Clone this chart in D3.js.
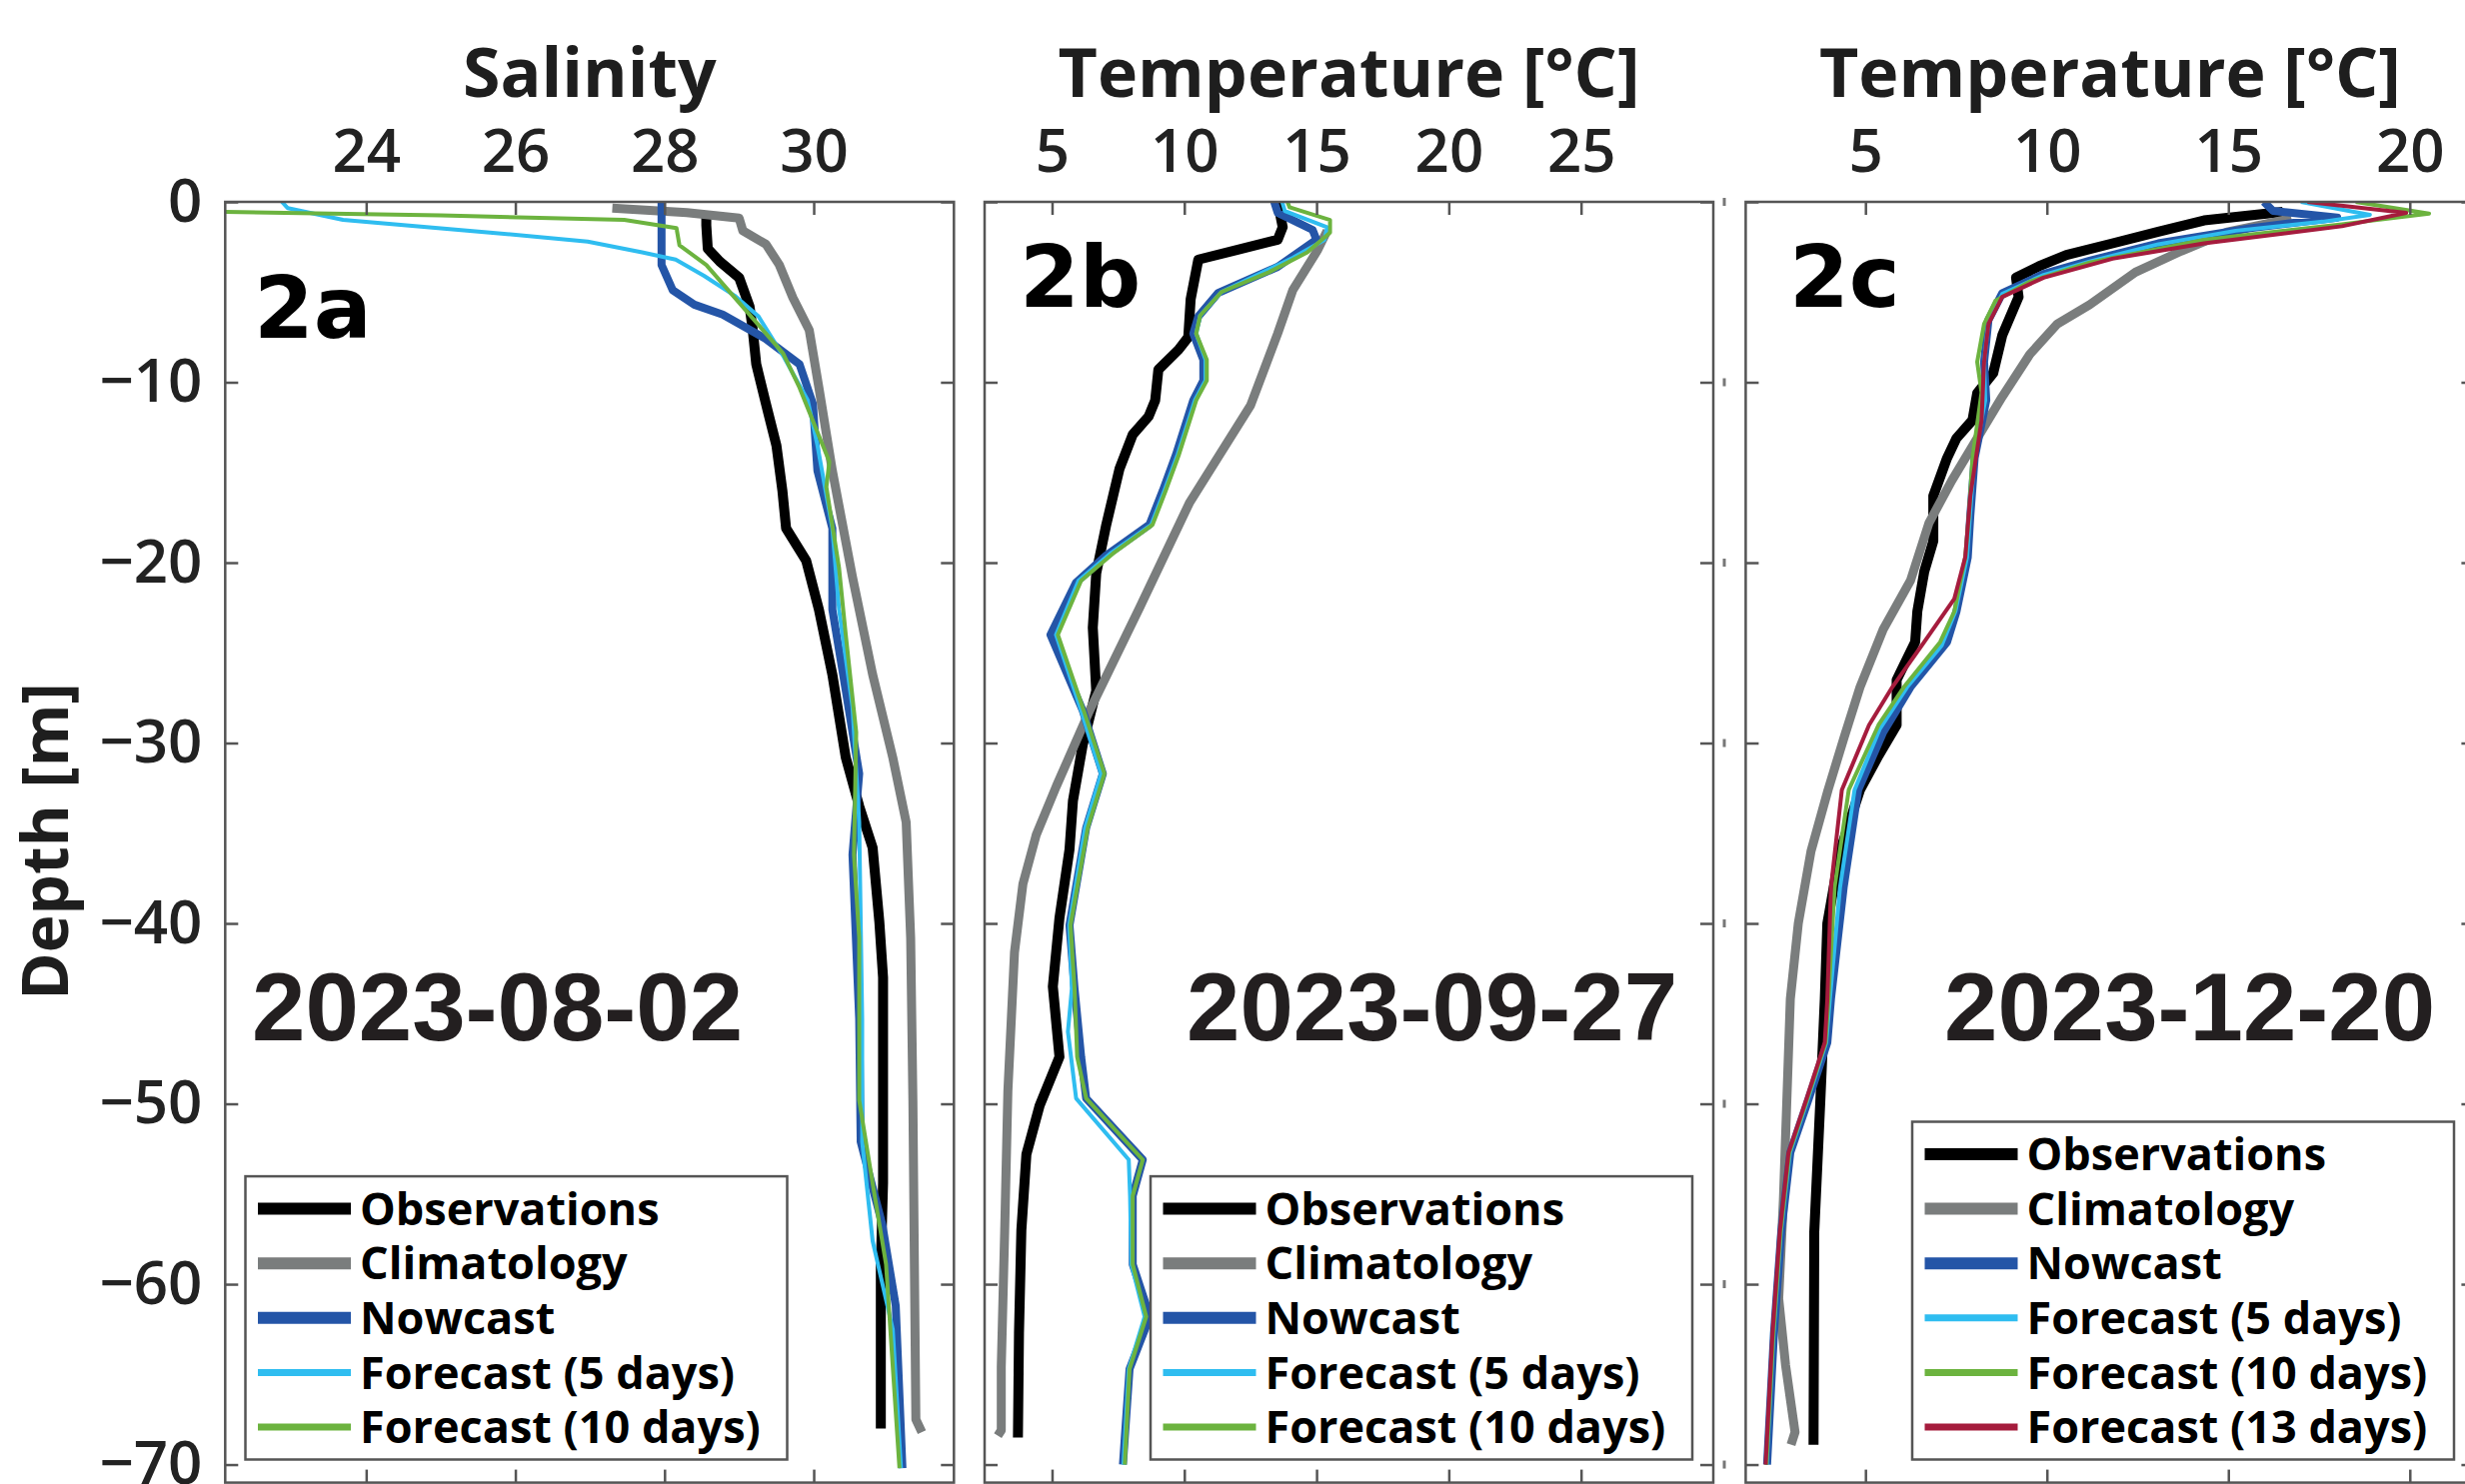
<!DOCTYPE html>
<html>
<head>
<meta charset="utf-8">
<script src="https://cdn.jsdelivr.net/npm/d3@7"></script>
<style>
  body { margin: 0; background: #fff; }
  svg { display: block; }
</style>
</head>
<body>
<svg id="chart" width="2466" height="1485"></svg>
<script>
// ticks
const depthTicks = [0, -10, -20, -30, -40, -50, -60, -70];
const salTicks = [24, 26, 28, 30];
const tempTicksB = [5, 10, 15, 20, 25];
const tempTicksC = [5, 10, 15, 20];

const seriesKeys = ["obs", "clim", "now", "f5", "f10", "f13"];
const legendNames = ["Observations", "Climatology", "Nowcast", "Forecast (5 days)", "Forecast (10 days)", "Forecast (13 days)"];
const panelTags = ["2a", "2b", "2c"];
const panelDates = ["2023-08-02", "2023-09-27", "2023-12-20"];
const xTitles = ["Salinity", "Temperature [°C]", "Temperature [°C]"];

// 2a salinity, [value, depth]
const obsA = [[28.56,-0.5],[28.56,-1.3],[28.58,-2.6],[28.74,-3.3],[29.0,-4.2],[29.14,-5.8],[29.18,-7.0],[29.23,-9.0],[29.36,-11.2],[29.5,-13.5],[29.58,-16.0],[29.63,-18.1],[29.9,-19.9],[30.07,-22.6],[30.25,-26.2],[30.43,-30.8],[30.61,-33.5],[30.79,-35.8],[30.88,-39.9],[30.93,-43.0],[30.93,-54.4],[30.9,-58.9],[30.9,-68.0]];
const climA = [[27.3,-0.35],[28.3,-0.6],[29.0,-0.9],[29.05,-1.6],[29.36,-2.35],[29.54,-3.5],[29.72,-5.3],[29.94,-7.1],[30.07,-10.3],[30.25,-14.9],[30.52,-20.8],[30.79,-26.2],[31.06,-30.8],[31.24,-34.4],[31.3,-40.8],[31.33,-49.8],[31.35,-58.9],[31.37,-67.5],[31.45,-68.2]];
const nowA = [[27.96,0],[27.96,-3.5],[28.11,-4.9],[28.4,-5.7],[28.78,-6.25],[29.36,-7.6],[29.81,-9.0],[29.99,-11.2],[30.05,-14.9],[30.25,-18.1],[30.25,-22.6],[30.43,-27.1],[30.61,-31.7],[30.52,-36.2],[30.61,-45.3],[30.63,-52.1],[30.92,-56.7],[31.1,-61.2],[31.19,-70.2]];
const f5A = [[22.87,0],[22.95,-0.35],[23.69,-1.0],[25.66,-1.7],[26.97,-2.2],[27.7,-2.8],[28.15,-3.2],[28.53,-4.1],[28.94,-5.2],[29.26,-6.35],[29.6,-8.6],[29.92,-11.0],[30.05,-13.5],[30.25,-18.1],[30.34,-22.6],[30.52,-28.0],[30.61,-34.4],[30.65,-45.3],[30.65,-52.1],[30.79,-57.6],[31.06,-62.5],[31.17,-70.2]];
const f10A = [[22.11,-0.55],[25.0,-0.75],[27.46,-1.0],[28.16,-1.45],[28.2,-2.4],[28.56,-3.5],[29.14,-6.25],[29.59,-8.4],[29.81,-10.3],[30.21,-14.4],[30.17,-15.8],[30.34,-20.3],[30.43,-24.0],[30.57,-29.4],[30.54,-36.2],[30.61,-40.8],[30.61,-49.8],[30.79,-54.4],[30.97,-58.9],[31.15,-70.2]];

// 2b temperature
const obsB = [[13.53,0],[13.72,-1.4],[13.53,-2.1],[10.53,-3.2],[10.24,-5.4],[10.15,-7.5],[9.78,-8.2],[9.02,-9.3],[8.9,-11.0],[8.65,-11.9],[8.05,-12.9],[7.55,-14.8],[7.05,-17.9],[6.67,-20.6],[6.54,-23.6],[6.67,-27.1],[6.16,-30.1],[5.79,-33.2],[5.66,-35.9],[5.28,-39.7],[5.03,-43.5],[5.28,-47.4],[4.53,-50.1],[4.03,-52.8],[3.84,-57.0],[3.75,-62.7],[3.71,-68.5]];
const climB = [[15.4,-1.6],[15.03,-2.7],[14.1,-4.9],[13.53,-7.3],[12.5,-11.3],[10.19,-16.7],[8.31,-22.5],[6.42,-28.2],[5.16,-32.4],[4.4,-35.1],[3.9,-37.8],[3.58,-41.6],[3.33,-49.3],[3.21,-57.0],[3.08,-64.6],[3.08,-68.1],[2.95,-68.4]];
const nowB = [[13.4,0],[13.53,-0.6],[14.85,-1.55],[15.0,-2.1],[13.53,-3.6],[11.28,-5.05],[10.53,-6.35],[10.34,-7.3],[10.72,-8.75],[10.72,-9.9],[10.34,-11.0],[9.69,-14.0],[9.19,-16.0],[8.68,-17.9],[7.05,-19.6],[5.91,-21.1],[4.94,-24.0],[6.16,-28.2],[6.92,-31.7],[6.29,-34.7],[5.66,-40.1],[5.85,-43.6],[6.1,-47.4],[6.29,-49.7],[8.43,-53.1],[8.05,-55.1],[8.05,-58.9],[8.7,-61.8],[7.93,-64.7],[7.68,-70.0]];
const f5B = [[13.7,0],[13.8,-0.5],[15.4,-1.4],[15.3,-2.1],[14.1,-3.1],[11.4,-5.0],[10.6,-6.3],[10.45,-7.3],[10.8,-8.75],[10.8,-9.9],[10.4,-11.0],[9.75,-14.0],[9.25,-16.0],[8.75,-17.9],[7.2,-19.5],[6.0,-21.0],[5.15,-24.0],[6.1,-28.2],[6.85,-31.7],[6.25,-34.7],[5.65,-40.1],[5.75,-43.6],[5.6,-46.0],[5.91,-49.7],[7.9,-53.1],[7.95,-55.1],[8.0,-58.9],[8.5,-61.8],[7.9,-64.7],[7.7,-70.0]];
const f10B = [[13.9,0],[13.98,-0.3],[15.51,-1.0],[15.51,-1.7],[14.65,-2.8],[13.2,-3.9],[11.4,-5.0],[10.6,-6.3],[10.45,-7.3],[10.85,-8.75],[10.85,-9.9],[10.45,-11.0],[9.8,-14.0],[9.3,-16.0],[8.8,-17.9],[7.3,-19.5],[6.1,-21.0],[5.22,-24.0],[6.2,-28.2],[6.98,-31.7],[6.35,-34.7],[5.7,-40.1],[5.85,-43.6],[5.95,-47.4],[6.29,-49.7],[8.43,-53.1],[8.05,-55.1],[8.05,-58.9],[8.56,-61.8],[7.93,-64.7],[7.75,-70.0]];

// 2c temperature
const obsC = [[16.5,-0.55],[14.33,-1.03],[13.07,-1.66],[11.81,-2.3],[10.54,-2.94],[9.78,-3.57],[9.15,-4.2],[9.22,-5.27],[8.77,-7.4],[8.52,-9.5],[8.08,-10.6],[7.95,-12.1],[7.51,-13.1],[7.25,-14.2],[6.87,-16.3],[6.87,-18.8],[6.62,-20.5],[6.43,-22.7],[6.37,-24.4],[5.86,-26.5],[5.86,-29.0],[5.36,-30.7],[4.85,-32.6],[4.3,-36.0],[3.95,-40.0],[3.88,-44.2],[3.76,-49.7],[3.59,-57.1],[3.57,-68.9]];
const climC = [[16.74,-0.93],[14.97,-1.67],[13.7,-2.73],[12.44,-3.9],[11.18,-5.7],[10.29,-6.76],[9.53,-8.45],[8.77,-10.8],[8.02,-13.3],[7.38,-15.45],[6.75,-17.8],[6.24,-21.0],[5.49,-23.7],[4.85,-26.9],[4.41,-29.7],[3.97,-32.6],[3.5,-36.0],[3.15,-40.0],[2.93,-44.2],[2.74,-55.3],[2.61,-60.8],[2.8,-64.5],[3.06,-68.2],[2.95,-68.9]];
const nowC = [[15.98,0],[16.23,-0.5],[18.0,-0.87],[15.6,-1.46],[13.07,-2.3],[11.18,-3.26],[9.91,-4.0],[8.77,-5.06],[8.39,-6.54],[8.27,-8.87],[8.33,-11.0],[8.01,-14.2],[7.89,-17.4],[7.82,-19.7],[7.51,-22.7],[7.25,-24.4],[6.24,-26.9],[5.49,-29.4],[4.8,-32.6],[4.4,-38],[4.05,-44.2],[3.95,-46.6],[3.44,-49.7],[2.93,-52.7],[2.68,-57.1],[2.48,-62.7],[2.29,-70.0]];
const f5C = [[17.0,0],[18.9,-0.72],[17.6,-1.1],[15.2,-1.6],[13.07,-2.35],[11.18,-3.3],[9.91,-4.05],[8.77,-5.1],[8.39,-6.6],[8.27,-8.87],[8.3,-11.0],[8.0,-14.2],[7.88,-17.4],[7.8,-19.7],[7.48,-22.7],[7.1,-24.6],[6.15,-26.9],[5.4,-29.2],[4.7,-32.6],[4.3,-38],[4.02,-44.2],[3.92,-46.6],[3.42,-49.7],[2.92,-52.7],[2.67,-57.1],[2.47,-62.7],[2.28,-70.0]];
const f10C = [[18.51,0],[20.53,-0.65],[18.13,-1.24],[14.33,-2.1],[11.18,-3.36],[9.53,-4.42],[8.58,-5.49],[8.27,-6.76],[8.08,-8.87],[8.2,-10.57],[7.95,-14.2],[7.85,-17.4],[7.75,-19.7],[7.45,-22.7],[7.06,-24.4],[6.06,-26.9],[5.36,-29.0],[4.54,-32.6],[4.15,-38],[3.98,-44.2],[3.9,-46.6],[3.4,-49.7],[2.9,-52.7],[2.66,-57.1],[2.46,-62.7],[2.27,-70.0]];
const f13C = [[17.18,0],[19.9,-0.61],[18.13,-1.35],[14.33,-2.3],[11.81,-3.15],[9.91,-4.2],[8.77,-5.27],[8.39,-6.76],[8.27,-8.87],[8.2,-12.1],[7.89,-16.3],[7.75,-19.7],[7.45,-22.0],[6.62,-24.4],[5.74,-26.9],[5.1,-29.0],[4.35,-32.6],[4.05,-38],[3.95,-44.2],[3.88,-46.6],[3.38,-49.7],[2.88,-52.7],[2.64,-57.1],[2.44,-62.7],[2.25,-70.0]];

const lineStyle = {
  obs:  { color: "#000000", width: 10, legendWidth: 12 },
  clim: { color: "#7a7d7d", width: 9,  legendWidth: 12 },
  now:  { color: "#2455a7", width: 8,  legendWidth: 12 },
  f5:   { color: "#2fbdf0", width: 4,  legendWidth: 7 },
  f10:  { color: "#6cb33f", width: 4,  legendWidth: 7 },
  f13:  { color: "#a51c3d", width: 4,  legendWidth: 7 }
};

const plotTop = 202, plotBottom = 1483.6, panelW = 729;
const frameColor = "#555";
const tickFont = "'Open Sans', 'DejaVu Sans', sans-serif";

const panels = [
  { left: 225.3, xDomain: [22.11, 31.88], ticks: salTicks, tagPos: [254, 338], dateX: 252, legendLeft: 245.5,
    series: { obs: obsA, clim: climA, now: nowA, f5: f5A, f10: f10A } },
  { left: 985, xDomain: [2.45, 30], ticks: tempTicksB, tagPos: [1020, 307], dateX: 1187, legendLeft: 1151,
    series: { obs: obsB, clim: climB, now: nowB, f5: f5B, f10: f10B } },
  { left: 1746.4, xDomain: [1.70, 21.78], ticks: tempTicksC, tagPos: [1790, 307], dateX: 1945, legendLeft: 1913,
    series: { obs: obsC, clim: climC, now: nowC, f5: f5C, f10: f10C, f13: f13C } }
];

const svg = d3.select("#chart");
svg.append("rect").attr("width", 2466).attr("height", 1485).attr("fill", "#fff");

const y = d3.scaleLinear().domain([-71, 0]).range([plotBottom, plotTop]);

function styleAxis(g) {
  g.select(".domain").remove();
  g.selectAll(".tick line").attr("stroke", frameColor).attr("stroke-width", 2.5);
  g.selectAll(".tick text")
    .attr("fill", "#222")
    .style("font-family", tickFont)
    .style("font-weight", 600)
    .style("font-size", "60px");
}

panels.forEach((p, pi) => {
  const right = p.left + panelW;
  const x = d3.scaleLinear().domain(p.xDomain).range([p.left, right]);
  const g = svg.append("g");

  const clipId = "clip" + pi;
  svg.append("clipPath").attr("id", clipId)
    .append("rect").attr("x", p.left).attr("y", plotTop).attr("width", panelW).attr("height", plotBottom - plotTop);

  // profiles
  const line = d3.line().x(d => x(d[0])).y(d => y(d[1]));
  const lines = g.append("g").attr("clip-path", "url(#" + clipId + ")");
  seriesKeys.forEach(k => {
    if (!p.series[k]) return;
    lines.append("path")
      .datum(p.series[k])
      .attr("d", line)
      .attr("fill", "none")
      .attr("stroke", lineStyle[k].color)
      .attr("stroke-width", lineStyle[k].width)
      .attr("stroke-linejoin", "round");
  });

  // axes, ticks pointing inward on all four sides
  g.append("g").attr("transform", "translate(0," + plotTop + ")")
    .call(d3.axisTop(x).tickValues(p.ticks).tickSizeInner(-13).tickSizeOuter(0).tickPadding(30))
    .call(styleAxis);
  g.append("g").attr("transform", "translate(0," + plotBottom + ")")
    .call(d3.axisBottom(x).tickValues(p.ticks).tickSizeInner(-13).tickSizeOuter(0).tickFormat(""))
    .call(styleAxis);
  g.append("g").attr("transform", "translate(" + p.left + ",0)")
    .call(d3.axisLeft(y).tickValues(depthTicks).tickSizeInner(-13).tickSizeOuter(0).tickPadding(23)
      .tickFormat(d => pi === 0 ? (d === 0 ? "0" : "\u2212" + Math.abs(d)) : ""))
    .call(styleAxis);
  g.append("g").attr("transform", "translate(" + right + ",0)")
    .call(d3.axisRight(y).tickValues(depthTicks).tickSizeInner(-13).tickSizeOuter(0).tickFormat(""))
    .call(styleAxis);

  g.append("rect")
    .attr("x", p.left).attr("y", plotTop)
    .attr("width", panelW).attr("height", plotBottom - plotTop)
    .attr("fill", "none").attr("stroke", frameColor).attr("stroke-width", 2.5);

  // titles and labels
  g.append("text")
    .attr("x", p.left + panelW / 2).attr("y", 97)
    .attr("text-anchor", "middle")
    .attr("fill", "#1e1e1e")
    .style("font-family", tickFont).style("font-weight", 700).style("font-size", "68px")
    .text(xTitles[pi]);

  g.append("text")
    .attr("x", p.tagPos[0]).attr("y", p.tagPos[1])
    .attr("fill", "#000")
    .style("font-family", "'DejaVu Sans', sans-serif").style("font-weight", 700).style("font-size", "86px")
    .text(panelTags[pi]);

  g.append("text")
    .attr("x", p.dateX).attr("y", 1041)
    .attr("fill", "#231f20")
    .style("font-family", "'Liberation Sans', Arial, sans-serif").style("font-weight", 700).style("font-size", "96px")
    .text(panelDates[pi]);

  // legend
  const keys = seriesKeys.filter(k => p.series[k]);
  const rowH = 54.6, pad = 32.5, boxW = 542;
  const boxH = pad * 2 + rowH * (keys.length - 1);
  const ly = 1460.5 - boxH;
  const leg = g.append("g");
  leg.append("rect")
    .attr("x", p.legendLeft).attr("y", ly)
    .attr("width", boxW).attr("height", boxH)
    .attr("fill", "#fff").attr("stroke", frameColor).attr("stroke-width", 2.5);
  keys.forEach((k, i) => {
    const ry = ly + pad + i * rowH;
    leg.append("line")
      .attr("x1", p.legendLeft + 12.5).attr("x2", p.legendLeft + 105.5)
      .attr("y1", ry).attr("y2", ry)
      .attr("stroke", lineStyle[k].color).attr("stroke-width", lineStyle[k].legendWidth);
    leg.append("text")
      .attr("x", p.legendLeft + 114.5).attr("y", ry).attr("dy", "0.36em")
      .attr("fill", "#000")
      .style("font-family", tickFont).style("font-weight", 700).style("font-size", "45px")
      .text(legendNames[seriesKeys.indexOf(k)]);
  });
});

// y axis title
svg.append("text")
  .attr("transform", "translate(68,842) rotate(-90)")
  .attr("text-anchor", "middle")
  .attr("fill", "#1e1e1e")
  .style("font-family", tickFont).style("font-weight", 700).style("font-size", "64px")
  .text("Depth [m]");

// leftover tick stubs between panels b and c
svg.append("g").selectAll("line")
  .data(depthTicks)
  .enter().append("line")
  .attr("x1", 1725).attr("x2", 1725)
  .attr("y1", d => y(d) - 4).attr("y2", d => y(d) + 4)
  .attr("stroke", "#777").attr("stroke-width", 3);
</script>
</body>
</html>
